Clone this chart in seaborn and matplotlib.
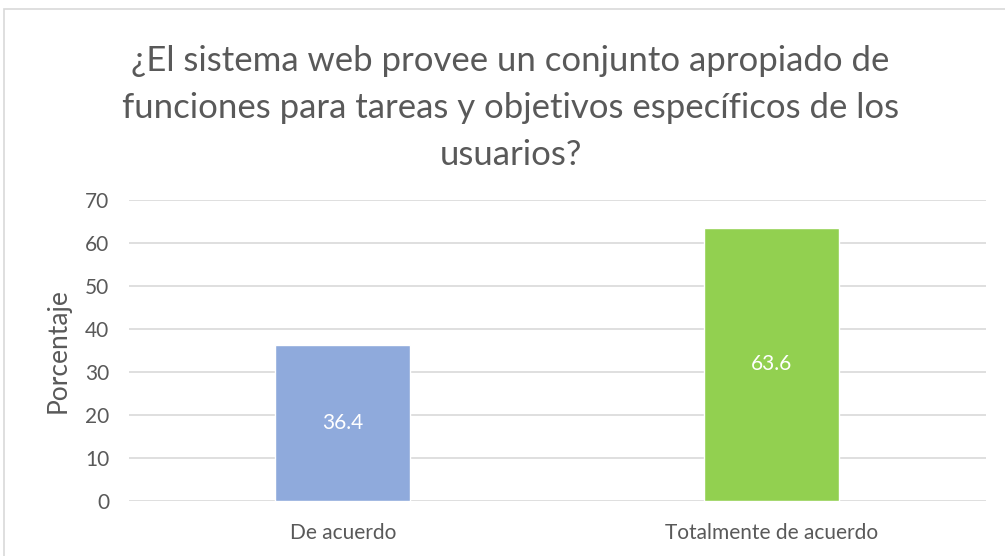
import seaborn as sns
import matplotlib.pyplot as plt
import pandas as pd
from matplotlib.patches import Rectangle

# data
categorias = ["De acuerdo", "Totalmente de acuerdo"]
porcentajes = [36.4, 63.6]
colores = ["#8FAADC", "#92D050"]
titulo = "¿El sistema web provee un conjunto apropiado de\nfunciones para tareas y objetivos específicos de los\nusuarios?"

df = pd.DataFrame({"categoria": categorias, "porcentaje": porcentajes})

sns.set_theme(style="white")
plt.rcParams["font.family"] = ["Lato", "DejaVu Sans"]
gris = "#595959"

fig = plt.figure(figsize=(10.05, 5.56), dpi=100)
ax = fig.add_axes([0.128, 0.099, 0.853, 0.541])

sns.barplot(data=df, x="categoria", y="porcentaje", hue="categoria",
            palette=colores, width=0.315, saturation=1, legend=False, ax=ax, zorder=3)

ax.set_ylim(0, 70)
ax.set_yticks(range(0, 71, 10))
ax.yaxis.grid(True, color="#D9D9D9", linewidth=1.2, zorder=0)
ax.set_axisbelow(True)
sns.despine(ax=ax, left=True, bottom=True)
ax.tick_params(axis="both", length=0, labelsize=15, labelcolor=gris)
ax.tick_params(axis="x", pad=16)
ax.tick_params(axis="y", pad=14)
ax.set_xlabel("")
ax.set_ylabel("Porcentaje", fontsize=19, color=gris, labelpad=10)
ax.set_xlim(-0.5, 1.5)

for cont in ax.containers:
    ax.bar_label(cont, fmt="%.1f", label_type="center", color="white", fontsize=15)

fig.text(0.508, 0.806, titulo, ha="center", va="center", fontsize=25,
         color=gris, linespacing=1.58)

# light border around the chart area
fig.patches.append(Rectangle((4 / 1005, -0.1), 1.1, (556 - 9) / 556 + 0.1,
                             transform=fig.transFigure, fill=False,
                             edgecolor="#D9D9D9", linewidth=1.2))

fig.savefig("out.png", dpi=100)
